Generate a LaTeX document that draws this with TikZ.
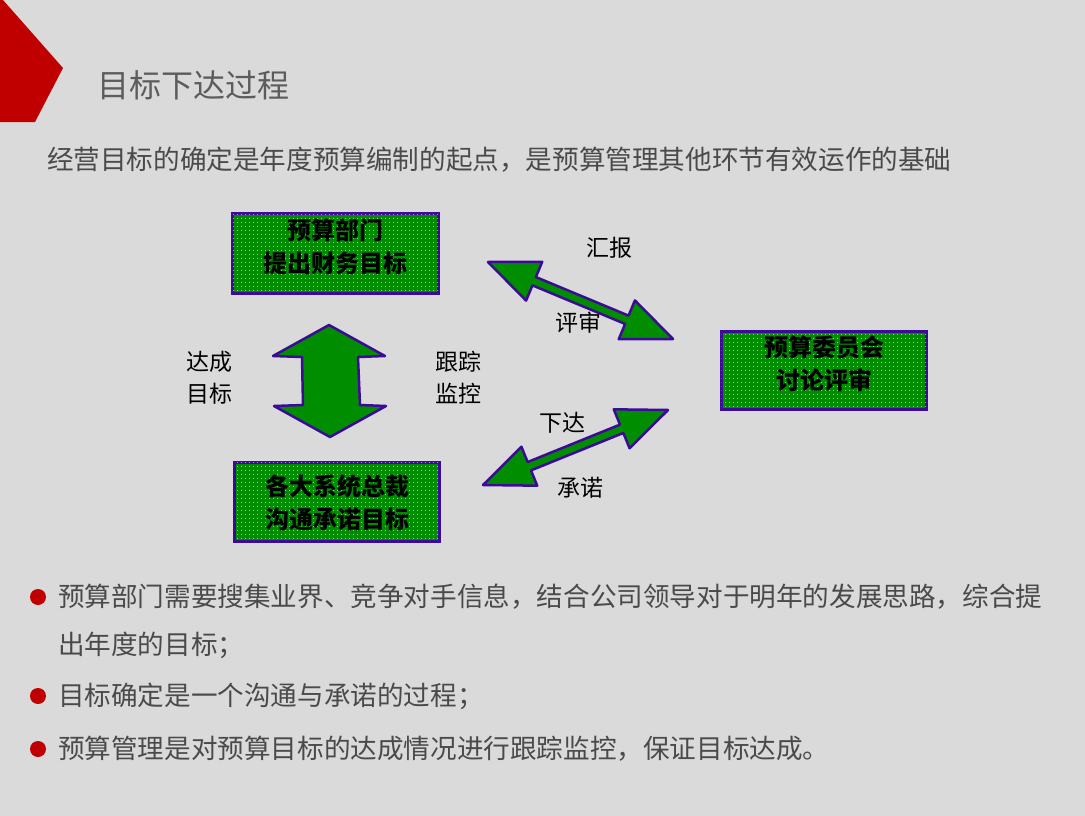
\documentclass[tikz,border=0pt]{standalone}
\usepackage{fontspec}
\setmainfont{Noto Sans CJK SC}
\usetikzlibrary{calc,patterns.meta}
\definecolor{bg}{HTML}{DADADA}
\definecolor{redA}{HTML}{C00000}
\definecolor{grn}{HTML}{008E00}
\definecolor{pur}{HTML}{3C0A96}
\definecolor{txt}{HTML}{4A4A4A}
\pgfdeclarepattern{
  name=whitedots, type=uncolored,
  bottom left={\pgfpoint{0pt}{0pt}}, top right={\pgfpoint{4pt}{4pt}},
  tile size={\pgfpoint{4pt}{4pt}},
  code={\pgfpathcircle{\pgfpoint{2pt}{2pt}}{0.55pt}\pgfusepath{fill}}}
\newcommand\dblarrow[3]{%
  \coordinate (#3p) at ($(#1)!50pt!(#2)$);
  \coordinate (#3q) at ($(#2)!50pt!(#1)$);
  \draw[arr] (#1) -- ($(#3p)!21pt!90:(#2)$) -- ($(#3p)!4.5pt!90:(#2)$)
    -- ($(#3q)!4.5pt!-90:(#1)$) -- ($(#3q)!21pt!-90:(#1)$) -- (#2)
    -- ($(#3q)!21pt!90:(#1)$) -- ($(#3q)!4.5pt!90:(#1)$)
    -- ($(#3p)!4.5pt!-90:(#2)$) -- ($(#3p)!21pt!-90:(#2)$) -- cycle;}
\begin{document}
\begin{tikzpicture}[x=1pt,y=-1pt,
 box/.style={draw=pur,line width=3pt,fill=grn,inner sep=0pt,
   postaction={pattern=whitedots,pattern color=white}},
 boxtxt/.style={font=\fontsize{24}{33}\selectfont\bfseries,align=center,text=black,inner sep=0pt},
 lbl/.style={font=\fontsize{23}{32}\selectfont,text=black,inner sep=0pt,align=center},
 arr/.style={draw=pur,line width=2.5pt,fill=grn,line join=round},
 body/.style={font=\fontsize{26.6}{48}\selectfont,text=txt,inner sep=0pt,anchor=west},
 bullet/.style={fill=redA}]
\fill[bg] (0,0) rectangle (1085,816);
\useasboundingbox (0,0) rectangle (1085,816);
\fill[redA] (0,0) -- (3,0) -- (63,68) -- (35,122) -- (0,122) -- cycle;
\node[font=\fontsize{32}{36}\selectfont,text=txt!90,anchor=west,inner sep=0pt] (title) at (97,85) {目标下达过程};
\node[body] (sub) at (47,160) {经营目标的确定是年度预算编制的起点，是预算管理其他环节有效运作的基础};
% boxes
\node[box,minimum width=206pt,minimum height=80pt] (b1) at (335.5,253.5) {};
\node[boxtxt] (b1t) at ($(b1.center)+(0,-7)$) {预算部门\\提出财务目标};
\node[box,minimum width=205pt,minimum height=79pt] (b2) at (337,502) {};
\node[boxtxt] (b2t) at ($(b2.center)+(0,1)$) {各大系统总裁\\沟通承诺目标};
\node[box,minimum width=205pt,minimum height=78pt] (b3) at (824,370.5) {};
\node[boxtxt] (b3t) at ($(b3.center)+(0,-6.5)$) {预算委员会\\讨论评审};
% vertical double arrow
\draw[arr] (329,325) -- (385,356) -- (358,357) -- (360,405) -- (386,406) -- (330,437)
  -- (274,406) -- (303,405) -- (302,357) -- (273,356) -- cycle;
% diagonal double arrows
\coordinate (a1) at (488,262); \coordinate (a2) at (673,339);
\dblarrow{a1}{a2}{x}
\coordinate (c1) at (668,410); \coordinate (c2) at (483,485);
\dblarrow{c1}{c2}{y}
% labels
\node[lbl] (l1) at (609,248) {汇报};
\node[lbl] (l2) at (578,323) {评审};
\node[lbl] (l3) at (562,423) {下达};
\node[lbl] (l4) at (580,488) {承诺};
\node[lbl] (l5) at (209,378) {达成\\目标};
\node[lbl] (l6) at (458,378) {跟踪\\监控};
% bullets
\fill[bullet] (38,597) circle[radius=8pt];
\fill[bullet] (38,696) circle[radius=8pt];
\fill[bullet] (38,749) circle[radius=8pt];
\node[body] (t1) at (58,597) {预算部门需要搜集业界、竞争对手信息，结合公司领导对于明年的发展思路，综合提};
\node[body] (t2) at (58,645) {出年度的目标；};
\node[body] (t3) at (58,696) {目标确定是一个沟通与承诺的过程；};
\node[body] (t4) at (58,749) {预算管理是对预算目标的达成情况进行跟踪监控，保证目标达成。};
\end{tikzpicture}
\end{document}
